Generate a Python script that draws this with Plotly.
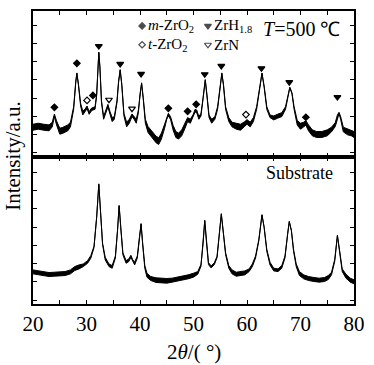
import plotly.graph_objects as go

# ---------------- data (arbitrary intensity units) ----------------
coat_2theta = [20.0, 21.0, 22.0, 23.0, 23.6, 24.0, 24.4, 25.0, 25.5, 26.0, 26.5, 27.0, 27.6, 28.0, 28.2, 28.5,
               28.9, 29.3, 29.7, 30.1, 30.5, 30.9, 31.2, 31.6, 31.9, 32.1, 32.3, 32.5, 32.8, 33.2, 33.6, 34.0,
               34.4, 34.8, 35.2, 35.7, 36.0, 36.3, 36.6, 37.0, 37.5, 38.0, 38.5, 38.9, 39.3, 39.7, 40.0, 40.3,
               40.6, 41.0, 41.5, 42.0, 42.5, 43.0, 43.5, 44.0, 44.6, 45.0, 45.3, 45.7, 46.2, 46.7, 47.2, 47.8,
               48.4, 48.9, 49.4, 49.9, 50.3, 50.6, 51.0, 51.4, 51.8, 52.2, 52.5, 52.9, 53.4, 54.0, 54.5, 54.9,
               55.3, 55.6, 56.0, 56.6, 57.2, 58.0, 58.8, 59.6, 60.0, 60.6, 61.2, 61.8, 62.3, 62.8, 63.2, 63.7,
               64.3, 65.0, 65.7, 66.5, 67.2, 67.7, 68.0, 68.4, 68.8, 69.4, 70.0, 70.6, 71.0, 71.5, 72.2, 73.0,
               74.0, 75.0, 75.8, 76.5, 76.9, 77.2, 77.5, 78.0, 78.8, 79.5, 80.0]
coat_intensity = [90, 93, 90, 88, 98, 126, 103, 78, 80, 83, 88, 98, 148, 228, 253, 218,
                  158, 133, 140, 150, 133, 143, 146, 148, 188, 268, 316, 273, 168, 118, 138, 155,
                  133, 113, 118, 168, 228, 263, 218, 128, 98, 108, 126, 118, 108, 138, 193, 223,
                  178, 108, 83, 73, 63, 53, 48, 63, 93, 118, 128, 118, 88, 68, 63, 73,
                  93, 113, 108, 123, 140, 138, 118, 128, 178, 233, 188, 123, 108, 118, 148, 208,
                  253, 218, 148, 113, 98, 93, 90, 100, 106, 98, 113, 148, 198, 253, 213, 148,
                  123, 118, 123, 128, 148, 193, 210, 193, 148, 103, 93, 98, 103, 88, 73, 68,
                  68, 73, 83, 98, 123, 133, 118, 83, 76, 73, 68]
coat_noise = [9, 9, 9, 9, 7, 4, 6, 9, 9, 9, 9, 7, 4, 2, 1, 2,
              4, 6, 4, 4, 4, 4, 4, 4, 2, 1, 1, 1, 3, 4, 4, 4,
              4, 6, 4, 3, 2, 1, 2, 4, 7, 6, 4, 4, 6, 4, 2, 1,
              2, 6, 9, 9, 9, 10, 10, 9, 6, 4, 4, 4, 7, 9, 9, 9,
              7, 6, 6, 4, 4, 4, 4, 4, 2, 1, 2, 4, 6, 4, 4, 2,
              1, 2, 4, 6, 7, 9, 9, 7, 7, 7, 6, 4, 2, 1, 2, 4,
              4, 6, 6, 6, 4, 2, 1, 2, 4, 7, 9, 7, 7, 9, 9, 9,
              9, 9, 7, 6, 4, 2, 4, 7, 9, 9, 9]

sub_2theta = [20.0, 21.0, 22.0, 23.0, 24.0, 25.0, 26.0, 27.0, 27.8, 28.6, 29.4, 30.2, 30.8, 31.4, 31.9, 32.3,
              32.6, 33.0, 33.5, 34.2, 34.8, 35.4, 35.8, 36.1, 36.4, 36.8, 37.4, 37.9, 38.3, 38.6, 39.0, 39.5,
              39.9, 40.2, 40.5, 40.9, 41.3, 42.0, 43.0, 44.0, 45.0, 46.0, 47.0, 48.0, 49.0, 50.0, 50.8, 51.4,
              51.8, 52.1, 52.4, 52.8, 53.3, 53.9, 54.4, 54.9, 55.2, 55.6, 56.0, 56.6, 57.2, 58.0, 58.8, 59.6,
              60.4, 61.0, 61.6, 62.2, 62.8, 63.2, 63.7, 64.3, 65.0, 65.8, 66.5, 67.1, 67.6, 67.9, 68.3, 68.7,
              69.2, 69.8, 70.6, 71.5, 72.5, 73.5, 74.5, 75.2, 75.8, 76.4, 76.9, 77.3, 77.8, 78.5, 79.3, 80.0]
sub_intensity = [97, 94, 90, 89, 90, 90, 92, 97, 107, 112, 117, 127, 142, 172, 262, 362,
                 292, 182, 137, 117, 112, 142, 222, 297, 232, 152, 127, 132, 144, 132, 122, 142,
                 202, 242, 182, 112, 87, 77, 72, 70, 70, 72, 75, 77, 82, 87, 94, 117,
                 182, 252, 192, 122, 112, 122, 142, 212, 272, 212, 152, 112, 97, 90, 92, 94,
                 102, 117, 142, 192, 269, 232, 162, 122, 104, 102, 112, 142, 212, 249, 222, 162,
                 117, 92, 82, 77, 74, 72, 74, 80, 92, 132, 207, 162, 102, 84, 72, 67]
sub_noise = [6, 6, 6, 6, 6, 6, 6, 6, 6, 6, 4, 4, 4, 2, 1, 1,
             1, 2, 4, 4, 4, 3, 1, 1, 1, 3, 4, 4, 3, 3, 4, 3,
             1, 1, 2, 4, 6, 6, 7, 7, 7, 6, 6, 6, 6, 6, 4, 3,
             1, 1, 1, 3, 3, 3, 2, 1, 1, 1, 3, 4, 6, 6, 6, 6,
             4, 4, 3, 2, 1, 1, 3, 4, 4, 4, 4, 3, 1, 1, 1, 3,
             4, 6, 6, 6, 6, 6, 6, 6, 4, 3, 1, 2, 4, 6, 6, 6]

# peak markers (top panel)
m_zro2_x = [24.0, 28.2, 31.2, 45.3, 48.9, 50.5, 71.0]
m_zro2_y = [150, 283, 186, 147, 138, 159, 120]
t_zro2_x = [30.1, 59.8]
t_zro2_y = [171, 128]
zrh_x = [32.3, 36.3, 40.2, 52.1, 55.2, 62.7, 67.9, 76.9]
zrh_y = [335, 281, 251, 250, 275, 268, 226, 181]
zrn_x = [34.2, 38.5]
zrn_y = [173, 146]

# legend key markers
key_x = [40.4, 52.7, 40.4, 52.7]
key_y = [396, 396, 339, 339]
key_labels = ["<i>m</i>-ZrO<sub>2</sub>", "ZrH<sub>1.8</sub>", "<i>t</i>-ZrO<sub>2</sub>", "ZrN"]

FONT = "Times New Roman"

fig = go.Figure()


def band(x, y, n, xa, ya):
    lo = [a - b for a, b in zip(y, n)]
    hi = [a + b for a, b in zip(y, n)]
    fig.add_trace(go.Scatter(x=x, y=lo, mode="lines", line=dict(color="black", width=1),
                             xaxis=xa, yaxis=ya, showlegend=False, hoverinfo="skip"))
    fig.add_trace(go.Scatter(x=x, y=hi, mode="lines", line=dict(color="black", width=1),
                             fill="tonexty", fillcolor="black",
                             xaxis=xa, yaxis=ya, showlegend=False, hoverinfo="skip"))


band(coat_2theta, coat_intensity, coat_noise, "x2", "y2")
band(sub_2theta, sub_intensity, sub_noise, "x", "y")

mk = dict(color="black", size=5, line=dict(color="black", width=1.2))
mt = dict(color="black", size=6, line=dict(color="black", width=1.2))
fig.add_trace(go.Scatter(x=m_zro2_x, y=m_zro2_y, mode="markers", xaxis="x2", yaxis="y2",
                         marker=dict(symbol="diamond", **mk), showlegend=False))
fig.add_trace(go.Scatter(x=t_zro2_x, y=t_zro2_y, mode="markers", xaxis="x2", yaxis="y2",
                         marker=dict(symbol="diamond-open", **mk), showlegend=False))
fig.add_trace(go.Scatter(x=zrh_x, y=zrh_y, mode="markers", xaxis="x2", yaxis="y2",
                         marker=dict(symbol="triangle-down", **mt), showlegend=False))
fig.add_trace(go.Scatter(x=zrn_x, y=zrn_y, mode="markers", xaxis="x2", yaxis="y2",
                         marker=dict(symbol="triangle-down-open", **mt), showlegend=False))
fig.add_trace(go.Scatter(x=key_x, y=key_y, mode="markers", xaxis="x2", yaxis="y2",
                         marker=dict(symbol=["diamond", "triangle-down", "diamond-open", "triangle-down-open"],
                                     size=[5, 6, 5, 6], color="black", line=dict(color="black", width=1.2)),
                         showlegend=False))

for kx, ky, lab in zip(key_x, key_y, key_labels):
    fig.add_annotation(x=kx + 0.7, y=ky, xref="x2", yref="y2", text=lab, showarrow=False,
                       xanchor="left", yanchor="middle", font=dict(family=FONT, size=15, color="black"))

split = 0.5017
axis_common = dict(showline=True, linecolor="black", linewidth=1.5, ticks="inside", ticklen=4,
                   tickcolor="black", tickwidth=1, showgrid=False, zeroline=False)

fig.update_layout(
    width=374, height=365,
    margin=dict(l=33, r=10, t=9, b=61),
    paper_bgcolor="white", plot_bgcolor="white",
    font=dict(family=FONT, color="black"),
    xaxis=dict(domain=[0, 1], anchor="y", range=[20, 80], tickmode="linear", tick0=20, dtick=10,
               mirror="ticks", minor=dict(dtick=5, ticks="inside", ticklen=4, tickcolor="black"),
               tickfont=dict(family=FONT, size=21, color="black"), **axis_common),
    xaxis2=dict(domain=[0, 1], anchor="y2", range=[20, 80], matches="x", tickmode="linear", tick0=20, dtick=10,
                showticklabels=False, mirror="ticks",
                minor=dict(dtick=5, ticks="inside", ticklen=4, tickcolor="black"), **axis_common),
    yaxis=dict(domain=[0, split], anchor="x", range=[0, 444], tickmode="linear", tick0=12, dtick=55,
               showticklabels=False, mirror="ticks", **axis_common),
    yaxis2=dict(domain=[split, 1], anchor="x2", range=[0, 441], tickmode="linear", tick0=13, dtick=55,
                showticklabels=False, mirror="ticks", **axis_common),
)

fig.add_annotation(x=-0.063, y=0.505, xref="paper", yref="paper", text="Intensity/a.u.", textangle=-90,
                   showarrow=False, xanchor="center", yanchor="middle",
                   font=dict(family=FONT, size=21, color="black"))
fig.add_annotation(x=0.5, y=-0.163, xref="paper", yref="paper", text="2<i>θ</i>/( °)",
                   showarrow=False, xanchor="center", yanchor="middle",
                   font=dict(family=FONT, size=21, color="black"))
fig.add_annotation(x=0.831, y=0.447, xref="paper", yref="paper", text="Substrate",
                   showarrow=False, xanchor="center", yanchor="middle",
                   font=dict(family=FONT, size=18, color="black"))
fig.add_annotation(x=0.838, y=0.939, xref="paper", yref="paper", text="<i>T</i>=500 ℃",
                   showarrow=False, xanchor="center", yanchor="middle",
                   font=dict(family=FONT, size=20, color="black"))

fig.write_html("out.html")
